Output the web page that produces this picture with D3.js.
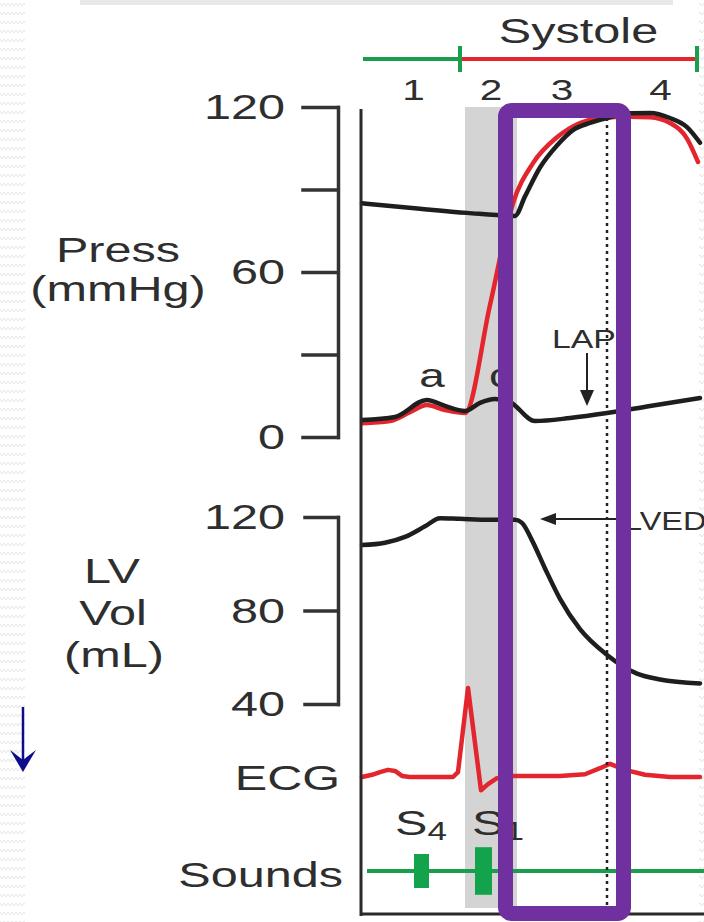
<!DOCTYPE html>
<html>
<head>
<meta charset="utf-8">
<script src="https://cdn.jsdelivr.net/npm/d3@7"></script>
<style>
  html, body { margin: 0; padding: 0; background: #fff; }
  svg { display: block; }
  text { font-family: "Liberation Sans", Arial, sans-serif; fill: #2e2e2e; }
</style>
</head>
<body>
<div id="chart"></div>
<script>
// ---- data (time in ms from the left edge of the trace) ----
var phaseLabels = ["1", "2", "3", "4"];
var phaseBounds = [0, 103, 155, 245, 352];
var diastoleEnd = 98;
var systoleEnd = 335;

// aortic pressure (black, upper)
var aoTime  = [0, 58, 105, 153, 163, 178, 195, 211, 228, 245, 268, 288, 308, 325, 338];
var aoPress = [85, 83, 81.5, 80.4, 87.5, 98, 106, 111.6, 114.2, 116, 117.7, 117.8, 116, 112.7, 107];

// LV pressure (red)
var lvTime  = [0, 28, 48, 65, 83, 103, 128, 151, 171, 195, 218, 238, 268, 288, 308, 325, 336];
var lvPress = [5, 5.8, 9, 11.6, 9.8, 8.7, 48, 85, 99.6, 109, 114.2, 116, 116.5, 116.3, 114.2, 108.5, 100];

// left atrial pressure (black, lower)
var laTime  = [0, 33, 65, 83, 103, 118, 133, 148, 173, 208, 245, 288, 338];
var laPress = [6.2, 7.3, 13.5, 11.3, 9.5, 12.4, 13.8, 12.7, 5.8, 6.9, 8.7, 11.3, 14.2];

// LV volume
var volTime = [0, 23, 43, 63, 78, 98, 128, 153, 160, 170, 183, 198, 218, 245, 275, 298, 338];
var volML   = [108, 109, 111.5, 116, 119.5, 119.2, 118.8, 118.8, 117.5, 110, 98, 85, 72, 61, 53, 50.5, 48.8];

// ECG
var ecgTime = [0, 10, 18, 26, 33, 40, 48, 91, 96, 106, 119, 126, 135, 148, 198, 223, 238, 248, 263, 283, 308, 338];
var ecgMV   = [0, 0.04, 0.09, 0.13, 0.11, 0.02, 0, 0, 0.09, 1.62, -0.24, -0.13, -0.02, 0.02, 0.02, 0.05, 0.16, 0.24, 0.13, 0.04, 0, 0];

// heart sounds
var soundNames = ["S4", "S1"];
var soundStart = [52, 113];
var soundEnd   = [67, 130];
var soundLevel = [1, 1.4];

var pressTicks = [0, 30, 60, 90, 120];
var volTicks = [40, 80, 120];

// ---- layout ----
var svgWidth = 704, svgHeight = 922;
var SX = 1.35; // horizontal stretch of the lettering

var svg = d3.select("#chart").append("svg")
    .attr("width", svgWidth)
    .attr("height", svgHeight);

var x = d3.scaleLinear().domain([0, 340]).range([362, 702]);
var pressY = d3.scaleLinear().domain([0, 120]).range([437, 107]);
var volY = d3.scaleLinear().domain([40, 120]).range([704, 517]);
var ecgY = d3.scaleLinear().domain([0, 1]).range([777, 722]);
var soundY = 871;
var soundAmp = d3.scaleLinear().domain([0, 1]).range([0, 17]);
var soundLabelX = [395, 472];

function label(str, lx, ly, size, anchor, sx) {
  return svg.append("text")
    .attr("transform", `translate(${lx},${ly}) scale(${sx || SX},1)`)
    .attr("text-anchor", anchor || "middle")
    .style("font-size", size + "px")
    .text(str);
}

// background texture at the edges + top bar
var defs = svg.append("defs");
var pat = defs.append("pattern").attr("id", "wavy")
    .attr("patternUnits", "userSpaceOnUse").attr("width", 8).attr("height", 9);
pat.append("path").attr("d", "M0,3 L2,6 L4,3 L6,6 L8,3")
    .attr("fill", "none").attr("stroke", "#e6e6e6").attr("stroke-width", 1);
svg.append("rect").attr("x", 0).attr("y", 0).attr("width", 25).attr("height", svgHeight).attr("fill", "url(#wavy)");
svg.append("rect").attr("x", 699).attr("y", 0).attr("width", 5).attr("height", svgHeight).attr("fill", "url(#wavy)");
svg.append("rect").attr("x", 80).attr("y", 0).attr("width", 593).attr("height", 5).attr("fill", "#e8e8e8");

// grey band = phase 2
svg.append("rect")
    .attr("x", x(phaseBounds[1]))
    .attr("y", 107)
    .attr("width", x(phaseBounds[2]) - x(phaseBounds[1]))
    .attr("height", 801)
    .attr("fill", "#d4d4d4");

// phase bar
var barY = 59;
svg.append("line").attr("x1", x(1)).attr("x2", x(diastoleEnd)).attr("y1", barY).attr("y2", barY)
    .attr("stroke", "#1a9e4b").attr("stroke-width", 4);
svg.append("line").attr("x1", x(diastoleEnd)).attr("x2", x(systoleEnd)).attr("y1", barY).attr("y2", barY)
    .attr("stroke", "#e3262d").attr("stroke-width", 4);
[diastoleEnd, systoleEnd].forEach(function(t) {
  svg.append("line").attr("x1", x(t)).attr("x2", x(t)).attr("y1", barY - 13).attr("y2", barY + 13)
      .attr("stroke", "#1a9e4b").attr("stroke-width", 4);
});
label("Systole", x((diastoleEnd + systoleEnd) / 2), 43, 36);
phaseLabels.forEach(function(p, i) {
  label(p, x((phaseBounds[i] + phaseBounds[i + 1]) / 2), 100, 30);
});

// curves
var lineOf = function(yScale, curve) {
  return d3.line().x(d => x(d[0])).y(d => yScale(d[1])).curve(curve || d3.curveMonotoneX);
};
var traces = svg.append("g").attr("fill", "none").attr("stroke-linejoin", "round").attr("stroke-linecap", "round");

traces.append("path").datum(d3.zip(lvTime, lvPress))
    .attr("d", lineOf(pressY)).attr("stroke", "#e3262d").attr("stroke-width", 4.5);
traces.append("path").datum(d3.zip(laTime, laPress))
    .attr("d", lineOf(pressY)).attr("stroke", "#1e1e1e").attr("stroke-width", 4.5);
traces.append("path").datum(d3.zip(aoTime, aoPress))
    .attr("d", lineOf(pressY)).attr("stroke", "#1e1e1e").attr("stroke-width", 4.5);
traces.append("path").datum(d3.zip(volTime, volML))
    .attr("d", lineOf(volY)).attr("stroke", "#1e1e1e").attr("stroke-width", 4.5);
traces.append("path").datum(d3.zip(ecgTime, ecgMV))
    .attr("d", lineOf(ecgY, d3.curveLinear)).attr("stroke", "#e3262d").attr("stroke-width", 4.5);

// sounds
svg.append("line").attr("x1", x(5)).attr("x2", svgWidth).attr("y1", soundY).attr("y2", soundY)
    .attr("stroke", "#1a9e4b").attr("stroke-width", 4);
svg.selectAll(".snd").data(soundNames).enter().append("rect")
    .attr("class", "snd")
    .attr("x", (d, i) => x(soundStart[i]))
    .attr("width", (d, i) => x(soundEnd[i]) - x(soundStart[i]))
    .attr("y", (d, i) => soundY - soundAmp(soundLevel[i]))
    .attr("height", (d, i) => 2 * soundAmp(soundLevel[i]))
    .attr("fill", "#12a34c");
soundNames.forEach(function(s, i) {
  var t = svg.append("text")
      .attr("transform", `translate(${soundLabelX[i]},835) scale(${SX},1)`)
      .style("font-size", "36px")
      .text(s.charAt(0));
  t.append("tspan").attr("dy", 5).style("font-size", "26px").text(s.slice(1));
});

// dotted divider between phases 3 and 4
svg.append("line").attr("x1", x(phaseBounds[3])).attr("x2", x(phaseBounds[3]))
    .attr("y1", 118).attr("y2", 912)
    .attr("stroke", "#222").attr("stroke-width", 2.5).attr("stroke-dasharray", "3,4");

// time origin + bottom line
svg.append("line").attr("x1", 361).attr("x2", 361).attr("y1", 109).attr("y2", 916)
    .attr("stroke", "#2a2a2a").attr("stroke-width", 3);
svg.append("line").attr("x1", 361).attr("x2", svgWidth).attr("y1", 914).attr("y2", 914)
    .attr("stroke", "#2a2a2a").attr("stroke-width", 3);

// axes
function styleAxis(g) {
  g.attr("color", "#333");
  g.selectAll("path, line").attr("stroke-width", 3.5).attr("stroke-linecap", "square");
  g.selectAll("text")
      .style("font-size", "36px")
      .attr("fill", "#2e2e2e")
      .attr("transform", function() { return `translate(${this.getAttribute("x")},0) scale(${SX},1)`; })
      .attr("x", 0);
}
svg.append("g").attr("transform", "translate(338,0)")
    .call(d3.axisLeft(pressY).tickValues(pressTicks).tickSize(35).tickSizeOuter(0).tickPadding(18)
      .tickFormat(d => d % 60 === 0 ? d : ""))
    .call(styleAxis);
svg.append("g").attr("transform", "translate(338,0)")
    .call(d3.axisLeft(volY).tickValues(volTicks).tickSize(33).tickSizeOuter(0).tickPadding(20))
    .call(styleAxis);

// axis titles
label("Press", 118, 262, 36);
label("(mmHg)", 118, 301, 36);
label("LV", 112, 583, 36);
label("Vol", 113, 625, 36);
label("(mL)", 114, 667, 36);
label("ECG", 340, 790, 36, "end");
label("Sounds", 343, 887, 36, "end");

// annotations
label("a", 432, 387, 34);
label("c", 489, 387, 34, "start");
label("LAP", 552, 348, 26, "start", 1.3);
svg.append("line").attr("x1", 587).attr("x2", 587).attr("y1", 353).attr("y2", 395)
    .attr("stroke", "#222").attr("stroke-width", 2);
svg.append("path").attr("d", "M587,406 L580,390 L594,390 Z").attr("fill", "#222");
label("LVEDV", 624, 530, 25, "start", 1.3);
svg.append("line").attr("x1", 552).attr("x2", 626).attr("y1", 519).attr("y2", 519)
    .attr("stroke", "#222").attr("stroke-width", 2);
svg.append("path").attr("d", "M540,519 L556,513 L556,525 Z").attr("fill", "#222");

// blue arrow at the left
svg.append("line").attr("x1", 23).attr("x2", 23).attr("y1", 707).attr("y2", 762)
    .attr("stroke", "#0c0c8c").attr("stroke-width", 2.5);
svg.append("path").attr("d", "M23,772 L10,750 Q18,756 23,760 Q28,756 36,750 Z").attr("fill", "#0c0c8c");

// purple highlight box over phase 3
svg.append("rect")
    .attr("x", x(143.5)).attr("y", 110.5)
    .attr("width", x(261.5) - x(143.5)).attr("height", 803)
    .attr("rx", 6)
    .attr("fill", "none").attr("stroke", "#7030a0").attr("stroke-width", 15);
</script>
</body>
</html>
